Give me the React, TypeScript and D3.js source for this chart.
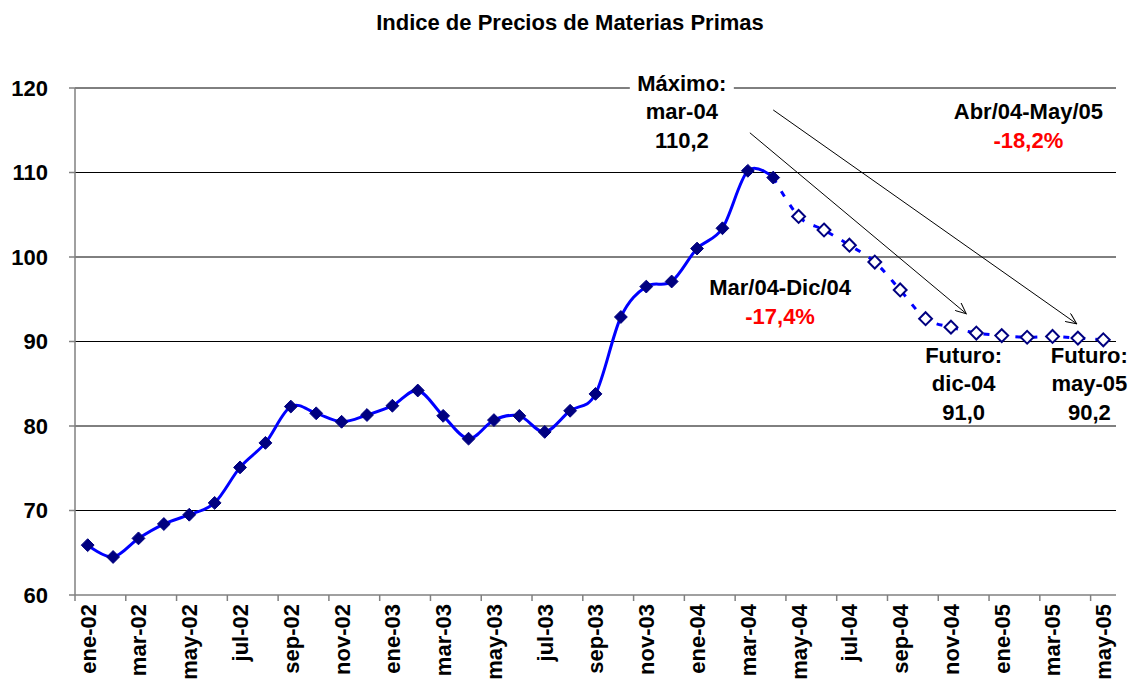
import React from 'react'
import * as d3 from 'd3'

// Meses (ene-02 .. may-05)
const months = [
  'ene-02', 'feb-02', 'mar-02', 'abr-02', 'may-02', 'jun-02', 'jul-02', 'ago-02', 'sep-02', 'oct-02', 'nov-02', 'dic-02',
  'ene-03', 'feb-03', 'mar-03', 'abr-03', 'may-03', 'jun-03', 'jul-03', 'ago-03', 'sep-03', 'oct-03', 'nov-03', 'dic-03',
  'ene-04', 'feb-04', 'mar-04', 'abr-04', 'may-04', 'jun-04', 'jul-04', 'ago-04', 'sep-04', 'oct-04', 'nov-04', 'dic-04',
  'ene-05', 'feb-05', 'mar-05', 'abr-05', 'may-05'
]

// observado: ene-02 .. abr-04
const actual = [
  65.9, 64.5, 66.7, 68.4, 69.5, 70.9, 75.1, 78.0, 82.3, 81.5, 80.5, 81.3,
  82.4, 84.2, 81.2, 78.5, 80.7, 81.2, 79.3, 81.8, 83.8, 92.9, 96.5, 97.1,
  101.0, 103.4, 110.2, 109.4
]

// futuros: may-04 .. may-05
const futures = [104.8, 103.2, 101.4, 99.4, 96.1, 92.7, 91.7, 91.0, 90.7, 90.5, 90.6, 90.4, 90.2]

const yTicks = [60, 70, 80, 90, 100, 110, 120]

// annotations in data space: i = month index, v = value of first baseline
const notes = [
  { i: 23.4, v: 119.7, lines: ['Máximo:', 'mar-04', '110,2'], red: [] as number[], box: true },
  { i: 37.05, v: 116.3, lines: ['Abr/04-May/05', '-18,2%'], red: [1], box: false },
  { i: 27.27, v: 95.5, lines: ['Mar/04-Dic/04', '-17,4%'], red: [1], box: false },
  { i: 34.5, v: 87.5, lines: ['Futuro:', 'dic-04', '91,0'], red: [], box: false },
  { i: 39.45, v: 87.5, lines: ['Futuro:', 'may-05', '90,2'], red: [], box: false }
]

const arrows = [
  { from: [26.08, 114.7], to: [34.6, 93.3] },
  { from: [27.0, 117.4], to: [38.95, 92.1] }
]

const W = 1128
const H = 684
const margin = { top: 88, right: 12, bottom: 89, left: 75 }
const font = '"Liberation Sans", Arial, Helvetica, sans-serif'
const fs = 22

export default function App() {
  const x = d3.scaleBand<string>().domain(months).range([margin.left, W - margin.right]).padding(0)
  const xi = d3.scaleLinear().domain([-0.5, months.length - 0.5]).range([margin.left, W - margin.right])
  const y = d3.scaleLinear().domain([60, 120]).range([H - margin.bottom, margin.top])
  const bw = x.bandwidth()
  const cx = (i: number) => (x(months[i]) as number) + bw / 2

  const line = d3.line<[number, number]>()
    .x(d => cx(d[0]))
    .y(d => y(d[1]))
    .curve(d3.curveCardinal.tension(0))

  const actualPts: [number, number][] = actual.map((v, i) => [i, v])
  const futPts: [number, number][] = [[actual.length - 1, actual[actual.length - 1]], ...futures.map((v, k) => [actual.length + k, v] as [number, number])]

  const diamond = d3.symbol().type(d3.symbolDiamond2).size(105)()
  const x0 = margin.left
  const x1 = W - margin.right
  const yBase = y(60)
  const lh = 28.5

  return (
    <svg width={W} height={H} style={{ position: 'absolute', left: 0, top: 0, background: '#fff' }}
      fontFamily={font} fontWeight="bold">
      <defs>
        <marker id="arr" viewBox="0 0 12 10" refX="11" refY="5" markerWidth="12" markerHeight="10"
          markerUnits="userSpaceOnUse" orient="auto">
          <path d="M0,0 L11,5 L0,10" fill="none" stroke="#000" strokeWidth={1} />
        </marker>
      </defs>

      <text x={570} y={30} textAnchor="middle" fontSize={fs}>Indice de Precios de Materias Primas</text>

      {/* gridlines */}
      {yTicks.filter(t => t > 60).map(t => (
        <line key={t} x1={x0} x2={x1} y1={y(t)} y2={y(t)} stroke="#000" strokeWidth={1} />
      ))}

      {/* axes */}
      <line x1={x0} x2={x0} y1={y(120)} y2={yBase} stroke="#808080" strokeWidth={1.5} />
      <line x1={x0} x2={x1} y1={yBase} y2={yBase} stroke="#808080" strokeWidth={1.5} />
      {yTicks.map(t => (
        <g key={t}>
          <line x1={x0 - 6} x2={x0} y1={y(t)} y2={y(t)} stroke="#808080" strokeWidth={1.5} />
          <text x={48} y={y(t)} dy="0.36em" textAnchor="end" fontSize={fs}>{t}</text>
        </g>
      ))}
      {months.map((m, i) => i % 2 === 0 ? (
        <g key={m}>
          <line x1={x(m) as number} x2={x(m) as number} y1={yBase} y2={yBase + 6} stroke="#808080" strokeWidth={1.5} />
          <text transform={`translate(${cx(i)},${yBase + 9}) rotate(-90)`} dy="0.36em" textAnchor="end" fontSize={fs}>{m}</text>
        </g>
      ) : null)}

      {/* series */}
      <path d={line(futPts) || ''} fill="none" stroke="#0000ff" strokeWidth={3} strokeDasharray="6 10" />
      <path d={line(actualPts) || ''} fill="none" stroke="#0000ff" strokeWidth={3} />
      {actualPts.map(([i, v]) => (
        <path key={'a' + i} d={diamond || ''} transform={`translate(${cx(i)},${y(v)})`} fill="#000080" stroke="#000080" strokeWidth={1} />
      ))}
      {futPts.slice(1).map(([i, v]) => (
        <path key={'f' + i} d={diamond || ''} transform={`translate(${cx(i)},${y(v)})`} fill="#fff" stroke="#000080" strokeWidth={2} />
      ))}

      {/* arrows */}
      {arrows.map((a, k) => (
        <line key={k} x1={xi(a.from[0])} y1={y(a.from[1])} x2={xi(a.to[0])} y2={y(a.to[1])}
          stroke="#000" strokeWidth={1} markerEnd="url(#arr)" />
      ))}

      {/* annotations */}
      {notes.map((n, k) => (
        <g key={k}>
          {n.box && <rect x={xi(n.i) - 52} y={y(n.v) - 20} width={104} height={lh * n.lines.length + 6} fill="#fff" />}
          {n.lines.map((t, j) => (
            <text key={j} x={xi(n.i)} y={y(n.v) + j * lh} textAnchor="middle" fontSize={fs}
              fill={n.red.includes(j) ? '#ff0000' : '#000'}>{t}</text>
          ))}
        </g>
      ))}
    </svg>
  )
}
